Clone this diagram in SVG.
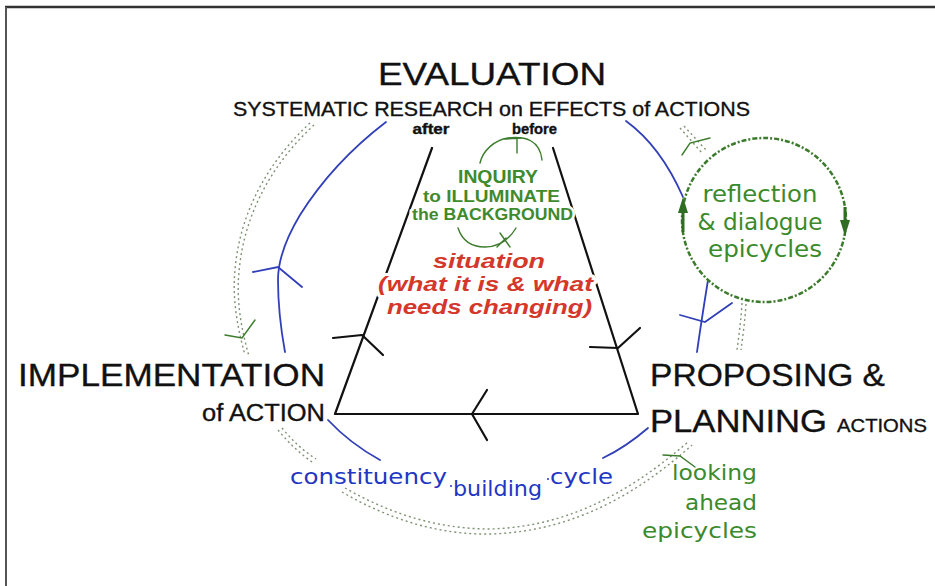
<svg xmlns="http://www.w3.org/2000/svg" width="935" height="586" viewBox="0 0 935 586">
<style>
.hd{font-family:"Liberation Sans",Arial,sans-serif;fill:#111;stroke:#111;stroke-width:0.35}
.bk{fill:none;stroke:#111;stroke-width:2.2;stroke-linecap:round;stroke-linejoin:round}
.bl{fill:none;stroke:#3140b8;stroke-width:1.8;stroke-linecap:round}
.gr{fill:none;stroke:#3b7b2b;stroke-width:1.4;stroke-linecap:round}
.dot{fill:none;stroke:#7f9275;stroke-width:1.4;stroke-dasharray:2 3}
.gt{font-family:"DejaVu Sans",Verdana,sans-serif;fill:#3b8a2b}
.bt{font-family:"DejaVu Sans",Verdana,sans-serif;fill:#2236c4}
.inq{font-family:"Liberation Sans",Arial,sans-serif;font-weight:bold;fill:#3f8a2c;stroke:#fff;stroke-width:5;paint-order:stroke;stroke-linejoin:round}
.red{font-family:"Liberation Sans",Arial,sans-serif;font-weight:bold;font-style:italic;fill:#d3382a;stroke:#fff;stroke-width:6;paint-order:stroke;stroke-linejoin:round}
</style>
<rect width="935" height="586" fill="#fff"/>
<path d="M5,7 H935" stroke="#333" stroke-width="2.5"/>
<path d="M6,7 V586" stroke="#555" stroke-width="2"/>

<g id="connectors">
  <!-- outer dotted epicycle loop (double dotted) -->
  <g id="dotted-loop">
    <path class="dot" d="M310,123 C270,160 240,210 235,270 C232,300 238,330 245,355"/>
    <path class="dot" d="M314,125 C274,162 244,212 239,272 C236,302 242,332 249,356"/>
    <path class="dot" d="M278,430 C288,442 298,452 312,462"/>
    <path class="dot" d="M282,428 C292,440 302,450 316,459"/>
    <path class="dot" d="M342,492 C390,520 440,535 490,534 C560,532 625,505 692,445"/>
    <path class="dot" d="M345,488 C392,515 440,529 490,529 C558,527 620,501 688,442"/>
    <path class="dot" d="M742,303 C741,320 739,335 737,350"/>
    <path class="dot" d="M746,304 C745,320 743,335 741,350"/>
    <path class="dot" d="M680,128 L702,153"/>
    <path class="dot" d="M684,126 L706,150"/>
    <path class="gr" d="M225,335 L242,338 L255,320"/>
    <path class="gr" d="M682,155 L690,143 L710,138"/>
    <path class="gr" d="M663,455 L680,456 L695,467"/>
  </g>
  <!-- blue constituency building cycle -->
  <g id="blue-cycle">
    <path class="bl" d="M386,122 C352,148 322,180 300,215 C285,240 278,260 278,280 C278,305 281,330 285,352"/>
    <path class="bl" d="M626,121 C648,137 668,163 683,197"/>
    <path class="bl" d="M708,280 C704,305 700,330 697,352"/>
    <path class="bl" d="M648,428 C634,440 620,450 603,458"/>
    <path class="bl" d="M328,420 C343,436 360,449 380,460"/>
    <path class="bl" d="M253,272 L278,267 L302,287"/>
    <path class="bl" d="M680,315 L705,322 L732,303"/>
  </g>
  <!-- trapezoid -->
  <g id="trapezoid">
    <path class="bk" d="M432,148 L335,414 L638,414 L553,148"/>
    <path class="bk" d="M333,338 L362,335 L383,355"/>
    <path class="bk" d="M590,347 L618,348 L640,328"/>
    <path class="bk" d="M487,390 L472,414 L487,440"/>
  </g>
  <!-- inquiry loop -->
  <g id="inquiry-loop">
    <path class="gr" d="M480,163 C483,150 495,140 508,138 C525,136 540,140 542,160"/>
    <path class="gr" d="M505,139 L521,138 M517,139 L517,153"/>
    <path class="gr" d="M458,228 C462,240 470,247 485,247 C500,247 510,238 516,228"/>
    <path class="gr" d="M500,233 L510,247 M497,247 L506,238"/>
  </g>
</g>

<g id="evaluation">
  <text class="hd" x="492" y="85" font-size="32" text-anchor="middle" textLength="228" lengthAdjust="spacingAndGlyphs">EVALUATION</text>
  <text class="hd" x="491.5" y="116" font-size="20" text-anchor="middle" textLength="517" lengthAdjust="spacingAndGlyphs">SYSTEMATIC RESEARCH on EFFECTS of ACTIONS</text>
  <text class="hd" x="431" y="134" font-size="14" font-weight="bold" text-anchor="middle" textLength="37" lengthAdjust="spacingAndGlyphs">after</text>
  <text class="hd" x="534.5" y="134" font-size="14" font-weight="bold" text-anchor="middle" textLength="45" lengthAdjust="spacingAndGlyphs">before</text>
</g>

<g id="inquiry">
  <text class="inq" x="498" y="183" font-size="19" text-anchor="middle" textLength="80" lengthAdjust="spacingAndGlyphs">INQUIRY</text>
  <text class="inq" x="491.5" y="202" font-size="16" text-anchor="middle" textLength="137" lengthAdjust="spacingAndGlyphs">to ILLUMINATE</text>
  <text class="inq" x="492.5" y="220" font-size="16" text-anchor="middle" textLength="161" lengthAdjust="spacingAndGlyphs">the BACKGROUND</text>
</g>

<g id="situation">
  <text class="red" x="489" y="268" font-size="21" text-anchor="middle" textLength="112" lengthAdjust="spacingAndGlyphs">situation</text>
  <text class="red" x="485.5" y="291" font-size="21" text-anchor="middle" textLength="215" lengthAdjust="spacingAndGlyphs">(what it is &amp; what</text>
  <text class="red" x="489.5" y="314" font-size="21" text-anchor="middle" textLength="205" lengthAdjust="spacingAndGlyphs">needs changing)</text>
</g>

<g id="reflection">
  <circle cx="764" cy="220" r="82" fill="none" stroke="#3b7b2b" stroke-width="2.5" stroke-dasharray="5 2 2 2"/>
  <path d="M683,207 V232" stroke="#2f6e22" stroke-width="3"/>
  <polygon points="683,197 678,213 688,213" fill="#2f6e22"/>
  <path d="M845,207 V222" stroke="#2f6e22" stroke-width="3"/>
  <polygon points="845,236 840,220 850,220" fill="#2f6e22"/>
  <text class="gt" x="760" y="202" font-size="23" text-anchor="middle" textLength="115" lengthAdjust="spacingAndGlyphs">reflection</text>
  <text class="gt" x="760" y="230" font-size="23" text-anchor="middle" textLength="125" lengthAdjust="spacingAndGlyphs">&amp; dialogue</text>
  <text class="gt" x="765" y="257" font-size="23" text-anchor="middle" textLength="114" lengthAdjust="spacingAndGlyphs">epicycles</text>
</g>

<g id="implementation">
  <text class="hd" x="18" y="386" font-size="32" textLength="307" lengthAdjust="spacingAndGlyphs">IMPLEMENTATION</text>
  <text class="hd" x="325" y="421" font-size="23" text-anchor="end" textLength="123" lengthAdjust="spacingAndGlyphs">of ACTION</text>
</g>

<g id="proposing">
  <text class="hd" x="650" y="386" font-size="32" textLength="235" lengthAdjust="spacingAndGlyphs">PROPOSING &amp;</text>
  <text class="hd" x="650" y="432" font-size="32" textLength="177" lengthAdjust="spacingAndGlyphs">PLANNING</text>
  <text class="hd" x="837" y="432" font-size="19" textLength="90" lengthAdjust="spacingAndGlyphs">ACTIONS</text>
</g>

<g id="looking-ahead">
  <text class="gt" x="757" y="480" font-size="22" text-anchor="end" textLength="85" lengthAdjust="spacingAndGlyphs">looking</text>
  <text class="gt" x="757" y="510" font-size="22" text-anchor="end" textLength="72" lengthAdjust="spacingAndGlyphs">ahead</text>
  <text class="gt" x="757" y="538" font-size="22" text-anchor="end" textLength="115" lengthAdjust="spacingAndGlyphs">epicycles</text>
</g>

<g id="constituency">
  <text class="bt" x="290" y="484" font-size="21" textLength="157" lengthAdjust="spacingAndGlyphs">constituency</text>
  <circle cx="451" cy="486" r="1" fill="#2236c4"/>
  <text class="bt" x="453" y="496" font-size="21" textLength="89" lengthAdjust="spacingAndGlyphs">building</text>
  <circle cx="548" cy="479" r="1" fill="#2236c4"/>
  <text class="bt" x="550" y="484" font-size="21" textLength="63" lengthAdjust="spacingAndGlyphs">cycle</text>
</g>
</svg>
